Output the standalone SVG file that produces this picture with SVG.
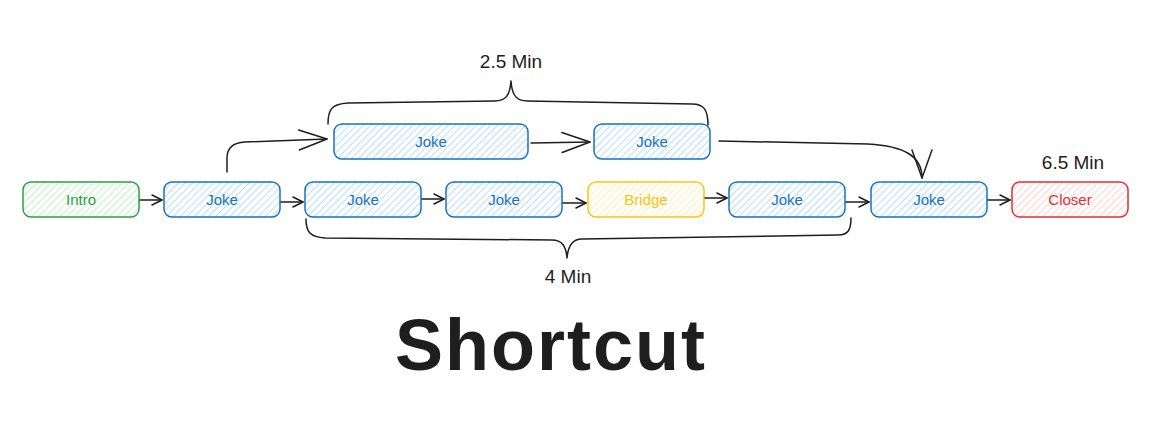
<svg xmlns="http://www.w3.org/2000/svg" width="1157" height="434" viewBox="0 0 1157 434">
  <defs>
    <pattern id="hBlue" patternUnits="userSpaceOnUse" width="5" height="10" patternTransform="rotate(45)">
      <rect width="5" height="10" fill="#ffffff"/>
      <line x1="0" y1="0" x2="0" y2="10" stroke="#a5d8ff" stroke-width="1.6"/>
    </pattern>
    <pattern id="hGreen" patternUnits="userSpaceOnUse" width="5" height="10" patternTransform="rotate(45)">
      <rect width="5" height="10" fill="#ffffff"/>
      <line x1="0" y1="0" x2="0" y2="10" stroke="#b2f2bb" stroke-width="1.6"/>
    </pattern>
    <pattern id="hYellow" patternUnits="userSpaceOnUse" width="5" height="10" patternTransform="rotate(45)">
      <rect width="5" height="10" fill="#ffffff"/>
      <line x1="0" y1="0" x2="0" y2="10" stroke="#ffec99" stroke-width="1.6"/>
    </pattern>
    <pattern id="hRed" patternUnits="userSpaceOnUse" width="5" height="10" patternTransform="rotate(45)">
      <rect width="5" height="10" fill="#ffffff"/>
      <line x1="0" y1="0" x2="0" y2="10" stroke="#ffc9c9" stroke-width="1.6"/>
    </pattern>
    <marker id="arrS" markerUnits="userSpaceOnUse" markerWidth="14" markerHeight="14" refX="11" refY="6" orient="auto">
      <path d="M1,1 L11,6 L1,11" fill="none" stroke="#1e1e1e" stroke-width="1.5" stroke-linecap="round" stroke-linejoin="round"/>
    </marker>
    <marker id="arrL" markerUnits="userSpaceOnUse" markerWidth="34" markerHeight="26" refX="30" refY="12" orient="auto">
      <path d="M2,2 L30,12 L2,22" fill="none" stroke="#1e1e1e" stroke-width="1.5" stroke-linecap="round" stroke-linejoin="round"/>
    </marker>
  </defs>
  <style>
    .box { stroke-width: 1.5; }
    .blue { stroke: #1971c2; fill: url(#hBlue); }
    .green { stroke: #2f9e44; fill: url(#hGreen); }
    .yellow { stroke: #fcc419; fill: url(#hYellow); }
    .red { stroke: #e03131; fill: url(#hRed); }
    .lbl { font-family: "Liberation Sans", Arial, sans-serif; font-size: 15px; text-anchor: middle; dominant-baseline: central; }
    .tb { fill: #1971c2; }
    .tg { fill: #2f9e44; }
    .ty { fill: #f5c211; }
    .tr { fill: #e03131; }
    .note { font-family: "Liberation Sans", Arial, sans-serif; font-size: 19px; fill: #1e1e1e; text-anchor: middle; dominant-baseline: central; }
    .edge { fill: none; stroke: #1e1e1e; stroke-width: 1.5; stroke-linecap: round; stroke-linejoin: round; }
  </style>
  <rect width="1157" height="434" fill="#ffffff"/>

  <g id="intro"><rect class="box green" x="23" y="182" width="116" height="35" rx="8"/><text class="lbl tg" x="81" y="199.5">Intro</text></g>
  <g id="joke1"><rect class="box blue" x="164" y="182" width="116" height="35" rx="8"/><text class="lbl tb" x="222" y="199.5">Joke</text></g>
  <g id="joke2"><rect class="box blue" x="305" y="182" width="116" height="35" rx="8"/><text class="lbl tb" x="363" y="199.5">Joke</text></g>
  <g id="joke3"><rect class="box blue" x="446" y="182" width="116" height="35" rx="8"/><text class="lbl tb" x="504" y="199.5">Joke</text></g>
  <g id="bridge"><rect class="box yellow" x="588" y="182" width="116" height="35" rx="8"/><text class="lbl ty" x="646" y="199.5">Bridge</text></g>
  <g id="joke4"><rect class="box blue" x="729" y="182" width="116" height="35" rx="8"/><text class="lbl tb" x="787" y="199.5">Joke</text></g>
  <g id="joke5"><rect class="box blue" x="871" y="182" width="116" height="35" rx="8"/><text class="lbl tb" x="929" y="199.5">Joke</text></g>
  <g id="closer"><rect class="box red" x="1012" y="182" width="116" height="35" rx="8"/><text class="lbl tr" x="1070" y="199.5">Closer</text></g>
  <g id="jokeA"><rect class="box blue" x="334" y="124" width="194" height="35" rx="8"/><text class="lbl tb" x="431" y="141.5">Joke</text></g>
  <g id="jokeB"><rect class="box blue" x="594" y="124" width="116" height="35" rx="8"/><text class="lbl tb" x="652" y="141.5">Joke</text></g>

  <g id="connectors">
    <path class="edge" d="M140,200 L162,200" marker-end="url(#arrS)"/>
    <path class="edge" d="M281,202 L303,202" marker-end="url(#arrS)"/>
    <path class="edge" d="M422,199 L444,199" marker-end="url(#arrS)"/>
    <path class="edge" d="M563,203 L586,203" marker-end="url(#arrS)"/>
    <path class="edge" d="M705,198 L727,198" marker-end="url(#arrS)"/>
    <path class="edge" d="M846,202 L869,202" marker-end="url(#arrS)"/>
    <path class="edge" d="M988,200 L1010,200" marker-end="url(#arrS)"/>
    <path class="edge" d="M227,172 L227,158 Q227,143 245,142 L327,139" marker-end="url(#arrL)"/>
    <path class="edge" d="M531,143 L590,142" marker-end="url(#arrL)"/>
    <path class="edge" d="M719,141 L868,144 C904,146 922,156 922,178" marker-end="url(#arrL)"/>
  </g>

  <g id="braces">
    <path class="edge" d="M328,124 C328,110 331,104 348,103 L495,101 C505,101 510,96 511,81 C512,96 517,101 527,101 L692,104 C704,104 708,110 708,125"/>
    <path class="edge" d="M306,219 C306,232 310,237 325,238 L552,240 C562,240 566,246 567,258 C568,246 572,239 582,239 L838,235 C848,235 851,230 851,218"/>
  </g>

  <g id="labels">
    <text class="note" x="511" y="61">2.5 Min</text>
    <text class="note" x="1073" y="162">6.5 Min</text>
    <text class="note" x="568" y="276">4 Min</text>
    <text x="395" y="370" font-family="Liberation Sans, Arial, sans-serif" font-size="72" font-weight="bold" fill="#1e1e1e" textLength="310" lengthAdjust="spacing">Shortcut</text>
  </g>
</svg>
